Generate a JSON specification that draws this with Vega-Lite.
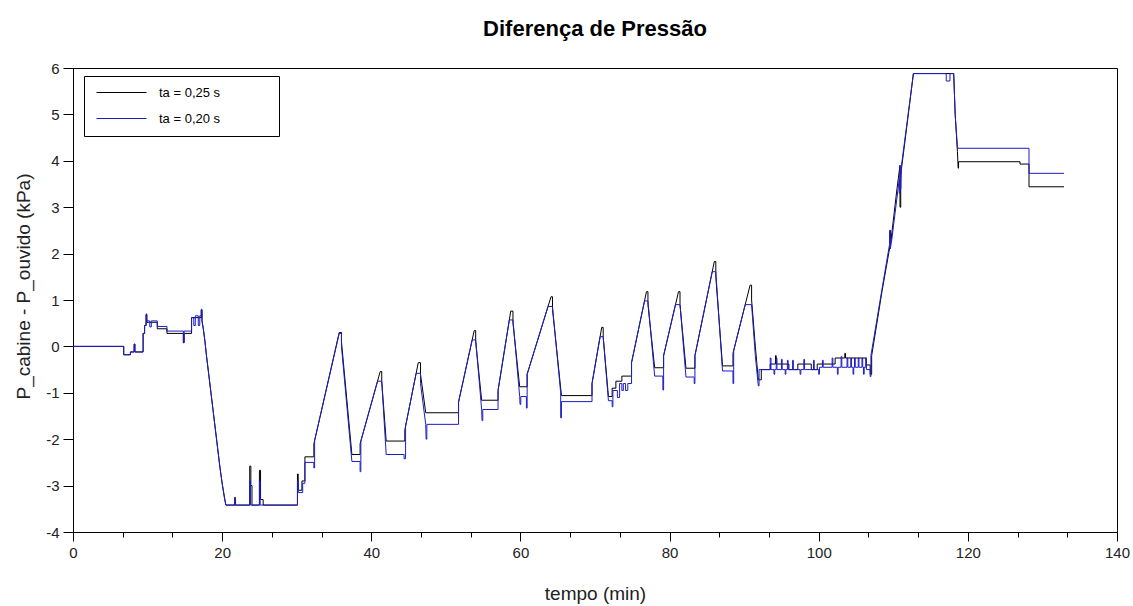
{
  "$schema": "https://vega.github.io/schema/vega-lite/v6.json",
  "width": 1044,
  "height": 464,
  "autosize": {"type": "none"},
  "padding": {"left": 73, "top": 68, "right": 16, "bottom": 74},
  "background": "white",
  "title": {"text": "Diferença de Pressão", "font": "Liberation Sans", "fontSize": 22, "fontWeight": "bold", "color": "#000", "anchor": "middle", "offset": 20},
  "config": {
    "view": {"stroke": "#000", "strokeWidth": 1},
    "axis": {"grid": false, "domainColor": "#000", "tickColor": "#000", "labelFont": "Liberation Sans Narrow, Liberation Sans", "labelFontSize": 15, "labelColor": "#222", "titleFont": "Liberation Sans Narrow, Liberation Sans", "titleFontSize": 19, "titleFontWeight": "normal", "titleColor": "#222"}
  },
  "datasets": {
    "k": [
      {"t":0,"v":0},{"t":6.8,"v":0},{"t":6.8,"v":-0.18},{"t":7.7,"v":-0.18},{"t":7.7,"v":-0.12},{"t":8.2,"v":-0.12},{"t":8.2,"v":0.05},{"t":8.3,"v":0.05},{"t":8.3,"v":-0.12},{"t":9.4,"v":-0.12},{"t":9.4,"v":0.28},{"t":9.6,"v":0.28},{"t":9.6,"v":0.45},{"t":9.8,"v":0.45},{"t":9.8,"v":0.68},{"t":9.9,"v":0.68},{"t":9.9,"v":0.52},{"t":11.3,"v":0.52},{"t":11.3,"v":0.38},{"t":12.6,"v":0.38},{"t":12.6,"v":0.28},{"t":14.8,"v":0.28},{"t":14.8,"v":0.08},{"t":14.9,"v":0.08},{"t":14.9,"v":0.28},{"t":15.9,"v":0.28},{"t":15.9,"v":0.62},{"t":17.2,"v":0.62},{"t":17.2,"v":0.78},{"t":17.3,"v":0.78},{"t":17.3,"v":0.55},
      {"t":17.5,"v":0.35},{"t":17.7,"v":0.1},{"t":17.9,"v":-0.2},{"t":18.2,"v":-0.6},{"t":18.5,"v":-1.0},{"t":18.8,"v":-1.4},{"t":19.1,"v":-1.8},{"t":19.4,"v":-2.2},{"t":19.7,"v":-2.6},{"t":20.0,"v":-2.95},{"t":20.3,"v":-3.25},{"t":20.5,"v":-3.42},
      {"t":21.7,"v":-3.42},{"t":21.7,"v":-3.25},{"t":21.75,"v":-3.25},{"t":21.75,"v":-3.42},{"t":23.7,"v":-3.42},{"t":23.7,"v":-2.58},{"t":23.85,"v":-2.58},{"t":23.85,"v":-3.0},{"t":24.0,"v":-3.0},{"t":24.0,"v":-3.42},{"t":25.0,"v":-3.42},{"t":25.0,"v":-2.67},{"t":25.15,"v":-2.67},{"t":25.15,"v":-3.3},{"t":25.5,"v":-3.3},{"t":25.5,"v":-3.42},{"t":30.1,"v":-3.42},{"t":30.1,"v":-2.75},{"t":30.2,"v":-2.75},{"t":30.2,"v":-3.1},{"t":30.7,"v":-3.1},{"t":30.7,"v":-2.9},{"t":31.1,"v":-2.9},{"t":31.1,"v":-2.38},{"t":32.3,"v":-2.38},{"t":32.3,"v":-2.1},
      {"t":35.7,"v":0.3},{"t":36.0,"v":0.3},{"t":36.0,"v":0.1},{"t":37.4,"v":-2.33},{"t":38.5,"v":-2.33},{"t":38.5,"v":-2.1},{"t":41.2,"v":-0.54},{"t":41.4,"v":-0.54},{"t":41.4,"v":-0.75},{"t":42.0,"v":-2.04},{"t":44.5,"v":-2.04},{"t":44.5,"v":-1.8},{"t":46.3,"v":-0.35},{"t":46.6,"v":-0.35},{"t":46.6,"v":-0.6},{"t":47.3,"v":-1.43},{"t":51.7,"v":-1.43},{"t":51.7,"v":-1.2},{"t":53.8,"v":0.34},{"t":54.0,"v":0.34},{"t":54.0,"v":0.1},{"t":54.8,"v":-1.16},{"t":57.0,"v":-1.16},{"t":57.0,"v":-0.95},{"t":58.7,"v":0.76},{"t":59.0,"v":0.76},{"t":59.0,"v":0.5},{"t":59.9,"v":-0.87},{"t":60.9,"v":-0.87},{"t":60.9,"v":-0.6},{"t":64.1,"v":1.07},{"t":64.3,"v":1.07},{"t":64.3,"v":0.8},{"t":65.5,"v":-1.06},{"t":69.6,"v":-1.06},{"t":69.6,"v":-0.8},{"t":70.9,"v":0.41},{"t":71.1,"v":0.41},{"t":71.1,"v":0.2},{"t":71.8,"v":-1.08},{"t":72.3,"v":-1.08},{"t":72.3,"v":-0.9},{"t":72.8,"v":-0.9},{"t":72.8,"v":-0.75},{"t":73.6,"v":-0.75},{"t":73.6,"v":-0.64},{"t":74.9,"v":-0.64},{"t":74.9,"v":-0.35},{"t":76.9,"v":1.18},{"t":77.1,"v":1.18},{"t":77.1,"v":0.9},{"t":78.0,"v":-0.46},{"t":79.2,"v":-0.46},{"t":79.2,"v":-0.2},{"t":81.2,"v":1.18},{"t":81.4,"v":1.18},{"t":81.4,"v":0.9},{"t":82.2,"v":-0.47},{"t":83.4,"v":-0.47},{"t":83.4,"v":-0.2},{"t":86.0,"v":1.83},{"t":86.2,"v":1.83},{"t":86.2,"v":1.5},{"t":87.1,"v":-0.42},{"t":88.5,"v":-0.42},{"t":88.5,"v":-0.15},{"t":90.8,"v":1.32},{"t":91.0,"v":1.32},{"t":91.0,"v":1.0},{"t":91.5,"v":0.0},{"t":91.9,"v":-0.72},{"t":92.3,"v":-0.72},{"t":92.3,"v":-0.5},{"t":93.5,"v":-0.5},{"t":93.5,"v":-0.38},{"t":94.2,"v":-0.38},{"t":94.2,"v":-0.2},{"t":94.3,"v":-0.2},{"t":94.3,"v":-0.38},{"t":96.0,"v":-0.38},{"t":96.0,"v":-0.5},{"t":97.2,"v":-0.5},{"t":97.2,"v":-0.38},{"t":99.0,"v":-0.38},{"t":99.0,"v":-0.5},{"t":99.8,"v":-0.5},{"t":99.8,"v":-0.38},{"t":102.2,"v":-0.38},{"t":102.2,"v":-0.25},{"t":103.5,"v":-0.25},{"t":103.5,"v":-0.15},{"t":103.6,"v":-0.15},{"t":103.6,"v":-0.25},{"t":106.4,"v":-0.25},{"t":106.4,"v":-0.4},{"t":106.9,"v":-0.4},{"t":106.9,"v":-0.6},{"t":107.1,"v":-0.6},{"t":107.1,"v":-0.2},
      {"t":108.5,"v":1.2},{"t":109.6,"v":2.2},{"t":109.6,"v":2.5},{"t":109.7,"v":2.3},{"t":110.5,"v":3.4},{"t":110.9,"v":3.9},{"t":110.9,"v":3.0},{"t":111.0,"v":3.0},{"t":111.0,"v":3.7},{"t":112.7,"v":5.88},{"t":118.1,"v":5.88},{"t":118.3,"v":5.0},{"t":118.6,"v":4.2},{"t":118.7,"v":3.84},{"t":118.75,"v":3.84},{"t":118.75,"v":3.98},{"t":127.0,"v":3.98},{"t":127.0,"v":3.93},{"t":128.2,"v":3.93},{"t":128.2,"v":3.44},{"t":132.9,"v":3.44}
    ],
    "b": [
      {"t":0,"v":0},{"t":6.8,"v":0},{"t":6.8,"v":-0.18},{"t":7.7,"v":-0.18},{"t":7.7,"v":-0.12},{"t":8.2,"v":-0.12},{"t":8.2,"v":0.05},{"t":8.3,"v":0.05},{"t":8.3,"v":-0.12},{"t":9.4,"v":-0.12},{"t":9.4,"v":0.28},{"t":9.6,"v":0.28},{"t":9.6,"v":0.45},{"t":9.8,"v":0.45},{"t":9.8,"v":0.7},{"t":9.9,"v":0.7},{"t":9.9,"v":0.55},{"t":10.3,"v":0.55},{"t":10.3,"v":0.42},{"t":10.5,"v":0.42},{"t":10.5,"v":0.55},{"t":11.3,"v":0.55},{"t":11.3,"v":0.43},{"t":12.6,"v":0.43},{"t":12.6,"v":0.33},{"t":14.8,"v":0.33},{"t":14.8,"v":0.08},{"t":14.9,"v":0.08},{"t":14.9,"v":0.33},{"t":15.9,"v":0.33},{"t":15.9,"v":0.62},{"t":16.2,"v":0.62},{"t":16.2,"v":0.45},{"t":16.4,"v":0.45},{"t":16.4,"v":0.66},{"t":16.8,"v":0.66},{"t":16.8,"v":0.45},{"t":17.0,"v":0.45},{"t":17.0,"v":0.66},{"t":17.2,"v":0.66},{"t":17.2,"v":0.8},{"t":17.3,"v":0.8},{"t":17.3,"v":0.55},
      {"t":17.5,"v":0.35},{"t":17.7,"v":0.1},{"t":17.9,"v":-0.2},{"t":18.2,"v":-0.6},{"t":18.5,"v":-1.0},{"t":18.8,"v":-1.4},{"t":19.1,"v":-1.8},{"t":19.4,"v":-2.2},{"t":19.7,"v":-2.6},{"t":20.0,"v":-2.95},{"t":20.3,"v":-3.25},{"t":20.5,"v":-3.42},
      {"t":21.7,"v":-3.42},{"t":21.7,"v":-3.3},{"t":21.8,"v":-3.3},{"t":21.8,"v":-3.42},{"t":23.7,"v":-3.42},{"t":23.7,"v":-2.9},{"t":23.8,"v":-2.9},{"t":23.8,"v":-3.42},{"t":25.0,"v":-3.42},{"t":25.0,"v":-2.9},{"t":25.1,"v":-2.9},{"t":25.1,"v":-3.42},{"t":30.1,"v":-3.42},{"t":30.1,"v":-2.9},{"t":30.2,"v":-2.9},{"t":30.2,"v":-3.15},{"t":30.8,"v":-3.15},{"t":30.8,"v":-2.95},{"t":31.1,"v":-2.95},{"t":31.1,"v":-2.5},{"t":32.3,"v":-2.5},{"t":32.3,"v":-2.62},{"t":32.4,"v":-2.62},{"t":32.4,"v":-2.03},
      {"t":35.7,"v":0.28},{"t":36.0,"v":0.28},{"t":36.0,"v":0.0},{"t":37.4,"v":-2.48},{"t":38.5,"v":-2.48},{"t":38.5,"v":-2.7},{"t":38.6,"v":-2.7},{"t":38.6,"v":-2.04},{"t":40.84,"v":-0.75},{"t":41.4,"v":-0.75},{"t":42.0,"v":-2.33},{"t":44.4,"v":-2.33},{"t":44.4,"v":-2.42},{"t":44.6,"v":-2.42},{"t":44.6,"v":-1.72},{"t":46.01,"v":-0.58},{"t":46.6,"v":-0.58},{"t":46.6,"v":-0.8},{"t":47.3,"v":-1.68},{"t":47.35,"v":-2.0},{"t":47.45,"v":-2.0},{"t":47.45,"v":-1.68},{"t":51.7,"v":-1.68},{"t":51.7,"v":-1.2},{"t":53.53,"v":0.14},{"t":54.0,"v":0.14},{"t":54.8,"v":-1.36},{"t":54.85,"v":-1.6},{"t":54.95,"v":-1.6},{"t":54.95,"v":-1.36},{"t":57.0,"v":-1.36},{"t":57.0,"v":-0.95},{"t":58.51,"v":0.57},{"t":59.0,"v":0.57},{"t":59.9,"v":-1.08},{"t":59.95,"v":-1.25},{"t":60.05,"v":-1.25},{"t":60.05,"v":-1.08},{"t":60.8,"v":-1.08},{"t":60.8,"v":-1.33},{"t":60.9,"v":-1.33},{"t":60.9,"v":-0.6},{"t":63.7,"v":0.86},{"t":64.3,"v":0.86},{"t":65.4,"v":-1.0},{"t":65.4,"v":-1.54},{"t":65.5,"v":-1.54},{"t":65.5,"v":-1.19},{"t":69.6,"v":-1.19},{"t":69.6,"v":-0.8},{"t":70.68,"v":0.21},{"t":71.1,"v":0.21},{"t":71.8,"v":-1.17},{"t":72.3,"v":-1.17},{"t":72.3,"v":-1.3},{"t":72.4,"v":-1.3},{"t":72.4,"v":-0.95},{"t":73.0,"v":-0.95},{"t":73.0,"v":-1.1},{"t":73.3,"v":-1.1},{"t":73.3,"v":-0.8},{"t":73.6,"v":-0.8},{"t":73.6,"v":-0.95},{"t":73.8,"v":-0.95},{"t":73.8,"v":-0.8},{"t":74.1,"v":-0.8},{"t":74.1,"v":-0.95},{"t":74.4,"v":-0.95},{"t":74.4,"v":-0.8},{"t":74.9,"v":-0.8},{"t":74.9,"v":-0.35},{"t":76.64,"v":0.98},{"t":77.1,"v":0.98},{"t":78.0,"v":-0.64},{"t":79.1,"v":-0.64},{"t":79.1,"v":-0.94},{"t":79.2,"v":-0.94},{"t":79.2,"v":-0.2},{"t":80.79,"v":0.9},{"t":81.4,"v":0.9},{"t":82.2,"v":-0.66},{"t":83.3,"v":-0.66},{"t":83.3,"v":-0.8},{"t":83.4,"v":-0.8},{"t":83.4,"v":-0.2},{"t":85.72,"v":1.61},{"t":86.2,"v":1.61},{"t":87.1,"v":-0.53},{"t":88.5,"v":-0.53},{"t":88.5,"v":-0.8},{"t":88.6,"v":-0.8},{"t":88.6,"v":-0.09},{"t":90.14,"v":0.9},{"t":91.0,"v":0.9},{"t":91.5,"v":-0.2},{"t":91.9,"v":-0.85},{"t":92.0,"v":-0.85},{"t":92.0,"v":-0.5},
      {"t":93.5,"v":-0.5},{"t":93.5,"v":-0.25},{"t":93.6,"v":-0.25},{"t":93.6,"v":-0.5},{"t":94.0,"v":-0.5},{"t":94.0,"v":-0.6},{"t":94.1,"v":-0.6},{"t":94.1,"v":-0.5},{"t":94.3,"v":-0.5},{"t":94.3,"v":-0.25},{"t":94.4,"v":-0.25},{"t":94.4,"v":-0.5},{"t":95.0,"v":-0.5},{"t":95.0,"v":-0.28},{"t":95.1,"v":-0.28},{"t":95.1,"v":-0.5},{"t":95.5,"v":-0.5},{"t":95.5,"v":-0.6},{"t":95.6,"v":-0.6},{"t":95.6,"v":-0.5},{"t":95.8,"v":-0.5},{"t":95.8,"v":-0.3},{"t":95.9,"v":-0.3},{"t":95.9,"v":-0.5},{"t":96.5,"v":-0.5},{"t":96.5,"v":-0.3},{"t":96.6,"v":-0.3},{"t":96.6,"v":-0.5},{"t":97.5,"v":-0.5},{"t":97.5,"v":-0.6},{"t":97.6,"v":-0.6},{"t":97.6,"v":-0.5},{"t":98.0,"v":-0.5},{"t":98.0,"v":-0.28},{"t":98.1,"v":-0.28},{"t":98.1,"v":-0.5},{"t":99.3,"v":-0.5},{"t":99.3,"v":-0.3},{"t":99.4,"v":-0.3},{"t":99.4,"v":-0.5},{"t":100.0,"v":-0.5},{"t":100.0,"v":-0.6},{"t":100.1,"v":-0.6},{"t":100.1,"v":-0.45},{"t":100.5,"v":-0.45},{"t":100.5,"v":-0.3},{"t":100.6,"v":-0.3},{"t":100.6,"v":-0.45},{"t":101.8,"v":-0.45},{"t":101.8,"v":-0.25},{"t":101.9,"v":-0.25},{"t":101.9,"v":-0.45},{"t":102.5,"v":-0.45},{"t":102.5,"v":-0.6},{"t":102.6,"v":-0.6},{"t":102.6,"v":-0.45},{"t":103.0,"v":-0.45},{"t":103.0,"v":-0.22},{"t":103.1,"v":-0.22},{"t":103.1,"v":-0.45},{"t":103.8,"v":-0.45},{"t":103.8,"v":-0.25},{"t":103.9,"v":-0.25},{"t":103.9,"v":-0.45},{"t":104.3,"v":-0.45},{"t":104.3,"v":-0.25},{"t":104.4,"v":-0.25},{"t":104.4,"v":-0.45},{"t":104.6,"v":-0.45},{"t":104.6,"v":-0.6},{"t":104.7,"v":-0.6},{"t":104.7,"v":-0.45},{"t":104.8,"v":-0.45},{"t":104.8,"v":-0.25},{"t":104.9,"v":-0.25},{"t":104.9,"v":-0.45},{"t":105.3,"v":-0.45},{"t":105.3,"v":-0.25},{"t":105.4,"v":-0.25},{"t":105.4,"v":-0.45},{"t":105.8,"v":-0.45},{"t":105.8,"v":-0.25},{"t":105.9,"v":-0.25},{"t":105.9,"v":-0.45},{"t":106.0,"v":-0.45},{"t":106.0,"v":-0.6},{"t":106.1,"v":-0.6},{"t":106.1,"v":-0.45},{"t":106.3,"v":-0.45},{"t":106.3,"v":-0.25},{"t":106.4,"v":-0.25},{"t":106.4,"v":-0.5},{"t":106.9,"v":-0.5},{"t":106.9,"v":-0.65},{"t":107.0,"v":-0.65},{"t":107.0,"v":-0.2},
      {"t":108.5,"v":1.25},{"t":109.5,"v":2.2},{"t":109.5,"v":2.5},{"t":109.6,"v":2.5},{"t":109.6,"v":2.1},{"t":109.8,"v":2.3},{"t":110.8,"v":3.6},{"t":110.8,"v":3.3},{"t":110.9,"v":3.3},{"t":110.9,"v":3.9},{"t":111.0,"v":3.4},{"t":111.1,"v":3.9},{"t":112.7,"v":5.88},{"t":117.1,"v":5.88},{"t":117.1,"v":5.72},{"t":117.6,"v":5.72},{"t":117.6,"v":5.88},{"t":118.1,"v":5.88},{"t":118.3,"v":5.0},{"t":118.6,"v":4.3},{"t":118.7,"v":4.27},{"t":128.2,"v":4.27},{"t":128.2,"v":3.73},{"t":132.9,"v":3.73}
    ]
  },
  "layer": [
    {
      "data": {"name": "k"},
      "mark": {"type": "line", "strokeWidth": 1, "clip": true},
      "encoding": {
        "x": {"field": "t", "type": "quantitative", "scale": {"domain": [0, 140], "nice": false, "zero": false},
          "axis": {"title": "tempo (min)", "titleBaseline": "alphabetic", "titleY": 67,
            "values": [0, 6.6667, 13.3333, 20, 26.6667, 33.3333, 40, 46.6667, 53.3333, 60, 66.6667, 73.3333, 80, 86.6667, 93.3333, 100, 106.6667, 113.3333, 120, 126.6667, 133.3333, 140],
            "labelExpr": "datum.value % 20 == 0 ? '' + datum.value : ''",
            "tickSize": {"condition": {"test": "datum.value % 20 == 0", "value": 9}, "value": 5},
            "labelPadding": 4, "labelFlush": false}},
        "y": {"field": "v", "type": "quantitative", "scale": {"domain": [-4, 6], "nice": false, "zero": false},
          "axis": {"title": "P_cabine - P_ouvido (kPa)", "titleAngle": -90, "titleAlign": "center", "titleBaseline": "alphabetic", "titleX": -44, "titleY": 218,
            "values": [-4, -3.5, -3, -2.5, -2, -1.5, -1, -0.5, 0, 0.5, 1, 1.5, 2, 2.5, 3, 3.5, 4, 4.5, 5, 5.5, 6],
            "labelExpr": "datum.value % 1 == 0 ? '' + datum.value : ''",
            "tickSize": {"condition": {"test": "datum.value % 1 == 0", "value": 10}, "value": 6},
            "labelPadding": 4, "labelFlush": false}},
        "color": {"datum": "ta = 0,25 s", "type": "nominal",
          "scale": {"domain": ["ta = 0,25 s", "ta = 0,20 s"], "range": ["#000000", "#1c1cc8"]},
          "legend": {"orient": "none", "legendX": 11, "legendY": 8, "title": " ", "titleOrient": "right", "titlePadding": 49,
            "strokeColor": "#000", "fillColor": "#fff", "padding": 10,
            "symbolType": "M-5,0H5", "symbolSize": 100, "symbolStrokeWidth": 1, "symbolOffset": 21,
            "labelOffset": 31, "labelFont": "Liberation Sans", "labelFontSize": 13, "labelColor": "#000", "rowPadding": 12}},
        "order": {"value": null}
      }
    },
    {
      "data": {"name": "b"},
      "mark": {"type": "line", "strokeWidth": 1, "clip": true},
      "encoding": {
        "x": {"field": "t", "type": "quantitative"},
        "y": {"field": "v", "type": "quantitative"},
        "color": {"datum": "ta = 0,20 s", "type": "nominal"},
        "order": {"value": null}
      }
    }
  ]
}
